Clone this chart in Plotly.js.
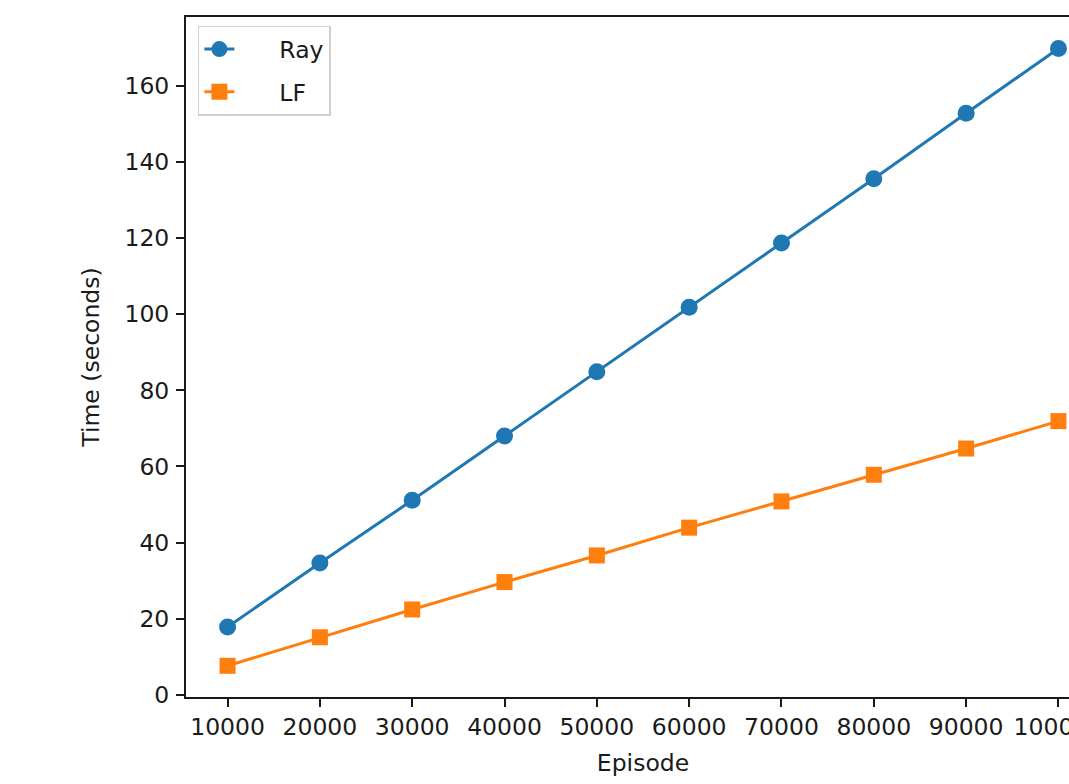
<!DOCTYPE html>
<html>
<head>
<meta charset="utf-8">
<script src="https://cdn.plot.ly/plotly-3.0.1.min.js"></script>
<style>
html, body { margin: 0; padding: 0; overflow: hidden; background: #fff; }
#chart { width: 1110px; height: 784px; }
</style>
</head>
<body>
<div id="chart"></div>
<script>
const episodes = [10000, 20000, 30000, 40000, 50000, 60000, 70000, 80000, 90000, 100000];
const rayTimes = [17.8, 34.6, 51.1, 68.0, 84.9, 101.8, 118.7, 135.6, 152.8, 169.8];
const lfTimes = [7.6, 15.1, 22.4, 29.6, 36.6, 43.9, 50.8, 57.8, 64.7, 71.9];
const yTicks = [0, 20, 40, 60, 80, 100, 120, 140, 160];
const seriesNames = ["Ray", "LF"];

const font = { family: "DejaVu Sans", size: 23.5, color: "#1a1a1a" };
const pad = "\u2003\u2002\u2009";

const traces = [
  {
    x: episodes, y: rayTimes, name: pad + seriesNames[0], type: "scatter", mode: "lines+markers",
    legendgroup: "g1",
    line: { color: "#1f77b4", width: 3 },
    marker: { color: "#1f77b4", symbol: "circle", size: 17 }
  },
  {
    x: episodes, y: lfTimes, name: pad + seriesNames[1], type: "scatter", mode: "lines+markers",
    legendgroup: "g2",
    line: { color: "#ff7f0e", width: 3 },
    marker: { color: "#ff7f0e", symbol: "square", size: 16 }
  }
];

const axisCommon = {
  showline: true, linecolor: "#1a1a1a", linewidth: 2, mirror: true,
  ticks: "outside", ticklen: 8, tickwidth: 2, tickcolor: "#1a1a1a",
  showgrid: false, zeroline: false, tickfont: font
};

const layout = {
  width: 1110, height: 784,
  margin: { l: 186, r: 10, t: 17, b: 87 },
  paper_bgcolor: "#fff", plot_bgcolor: "#fff",
  font: font,
  showlegend: true,
  legend: {
    x: 0.013, y: 0.987, xanchor: "left", yanchor: "top",
    traceorder: "grouped", tracegroupgap: 9,
    bgcolor: "rgba(255,255,255,0.8)", bordercolor: "#d0d0d0", borderwidth: 1.5,
    font: font
  },
  xaxis: Object.assign({}, axisCommon, {
    range: [5500, 104500],
    tickvals: episodes, ticktext: episodes.map(String),
    title: { text: "Episode", font: font, standoff: 14 }
  }),
  yaxis: Object.assign({}, axisCommon, {
    range: [-0.6, 178.1],
    tickvals: yTicks, ticktext: yTicks.map(String),
    ticklabelstandoff: 2,
    title: { text: "Time (seconds)", font: font, standoff: 18 }
  })
};

Plotly.newPlot("chart", traces, layout, { displayModeBar: false, staticPlot: true });
</script>
</body>
</html>
